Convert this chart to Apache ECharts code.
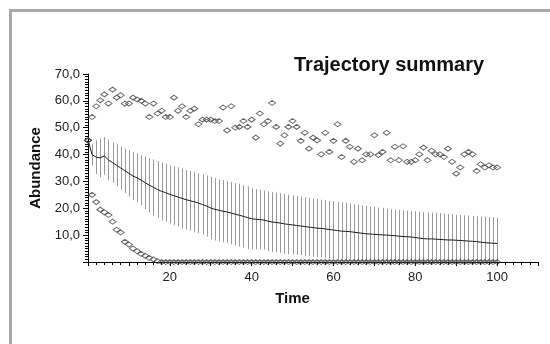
<!DOCTYPE html>
<html>
<head>
<meta charset="utf-8">
<script src="https://cdn.jsdelivr.net/npm/echarts@6/dist/echarts.min.js"></script>
<style>
  html, body { margin: 0; padding: 0; background: #fff; }
  #chart { width: 550px; height: 344px; }
</style>
</head>
<body>
<div id="chart"></div>
<script type="text/javascript">

    // time steps 0..100
    var times = [];
    for (var i = 0; i <= 100; i++) { times.push(i); }

    // mean abundance over trajectories
    var meanValues = [45.3, 40, 39, 38.8, 39.5, 38, 37, 36, 35, 34,
        33, 32, 31.3, 30.5, 29.5, 28.6, 27.8, 27, 26.3, 25.8,
        25.2, 24.7, 24.2, 23.7, 23.2, 22.8, 22.4, 21.9, 21.4, 20.8,
        20.1, 19.6, 19.3, 18.9, 18.6, 18.2, 17.8, 17.4, 17, 16.5,
        16.1, 15.9, 15.8, 15.6, 15.2, 14.9, 14.7, 14.5, 14.2, 14,
        13.8, 13.6, 13.4, 13.2, 13, 12.8, 12.6, 12.5, 12.3, 12.1,
        11.9, 11.7, 11.5, 11.4, 11.3, 11.1, 10.9, 10.7, 10.5, 10.4,
        10.3, 10.2, 10.1, 10, 9.9, 9.8, 9.6, 9.5, 9.4, 9.3,
        9.1, 8.9, 8.7, 8.6, 8.6, 8.5, 8.4, 8.3, 8.2, 8.2,
        8.1, 8, 7.9, 7.8, 7.7, 7.6, 7.4, 7.2, 7.1, 7, 6.9];

    // error bar top (mean + sd), t = 0..100
    var upperValues = [45.3, 44, 45.3, 46, 46.5, 45.5, 44.5, 43.8, 43, 42.3,
        41.6, 41, 40.4, 39.8, 39.3, 38.7, 38.2, 37.6, 37, 36.5,
        36, 35.6, 35.2, 34.8, 34.3, 33.9, 33.5, 33, 32.6, 32.2,
        31.7, 31.2, 30.8, 30.5, 30.1, 29.8, 29.4, 29, 28.6, 28.1,
        27.5, 27.1, 26.9, 26.6, 26.3, 26.1, 25.8, 25.6, 25.3, 25.1,
        24.8, 24.6, 24.3, 24.1, 23.8, 23.6, 23.4, 23.2, 23, 22.8,
        22.6, 22.4, 22.2, 22, 21.7, 21.5, 21.3, 21.1, 20.9, 20.7,
        20.5, 20.3, 20.1, 19.9, 19.7, 19.5, 19.4, 19.2, 19.1, 19,
        18.9, 18.8, 18.6, 18.5, 18.4, 18.3, 18.2, 18, 17.9, 17.8,
        17.6, 17.5, 17.4, 17.3, 17.2, 17, 16.9, 16.8, 16.7, 16.6, 16.5];

    // error bar bottom (mean - sd, clipped at 0)
    var lowerValues = [45.3, 36, 32.7, 31.6, 32.5, 30.5, 29.5, 28.2, 27, 25.7,
        24.4, 23, 22.2, 21.2, 19.7, 18.5, 17.4, 16.4, 15.6, 15.1,
        14.4, 13.8, 13.2, 12.6, 12.1, 11.7, 11.3, 10.8, 10.2, 9.4,
        8.5, 8, 7.8, 7.3, 7.1, 6.6, 6.2, 5.8, 5.4, 4.9,
        4.7, 4.7, 4.7, 4.6, 4.1, 3.7, 3.6, 3.4, 3.1, 2.9,
        2.8, 2.6, 2.5, 2.3, 2.2, 2, 1.8, 1.8, 1.6, 1.4,
        1.2, 1, 0.8, 0.8, 0.9, 0.7, 0.5, 0.3, 0.1, 0,
        0, 0, 0, 0, 0, 0, 0, 0, 0, 0,
        0, 0, 0, 0, 0, 0, 0, 0, 0, 0,
        0, 0, 0, 0, 0, 0, 0, 0, 0, 0, 0];

    // highest trajectory at each step
    var maxValues = [45.3, 54, 58, 60.2, 62.4, 59, 64.2, 61.2, 62.1, 59,
        59, 61.2, 60.5, 60, 59, 54, 59, 55.3, 56.3, 54,
        54, 61.2, 56.3, 58, 54, 56.3, 57.1, 51.3, 53, 53,
        53, 52.5, 52.5, 57.5, 49, 58, 50, 50.3, 52.5, 50.3,
        53, 46.3, 55.3, 51.3, 52.5, 59.2, 50.3, 44.1, 47.2, 50.3,
        52.5, 50.3, 45.1, 48.1, 42.2, 46.3, 45.3, 40.1, 48.1, 41,
        45.1, 51.3, 39.1, 45.1, 42.9, 37.3, 42.2, 37.9, 40.1, 40.1,
        47.2, 39.8, 41, 48.1, 37.9, 42.9, 37.9, 43.1, 37.3, 37.3,
        37.9, 40.1, 42.6, 37.9, 41.4, 40.1, 40.1, 39.1, 42.2, 37.3,
        32.9, 35.2, 40.1, 41, 40.1, 33.9, 36.4, 35.2, 36, 35.2, 35.2];

    // lowest trajectory at each step
    var minValues = [45.3, 25, 22.3, 19.5, 18.5, 17.5, 15, 12, 11, 7.5,
        6.5, 5, 4, 3, 2.3, 1.5, 1, 0.3, 0, 0,
        0, 0, 0, 0, 0, 0, 0, 0, 0, 0,
        0, 0, 0, 0, 0, 0, 0, 0, 0, 0,
        0, 0, 0, 0, 0, 0, 0, 0, 0, 0,
        0, 0, 0, 0, 0, 0, 0, 0, 0, 0,
        0, 0, 0, 0, 0, 0, 0, 0, 0, 0,
        0, 0, 0, 0, 0, 0, 0, 0, 0, 0,
        0, 0, 0, 0, 0, 0, 0, 0, 0, 0,
        0, 0, 0, 0, 0, 0, 0, 0, 0, 0, 0];

    var font = "'Liberation Sans', Arial, sans-serif";

    var meanData = times.map(function (t, i) { return [t, meanValues[i]]; });
    var barData = [];
    for (var k = 1; k < times.length; k++) {
        barData.push([times[k], lowerValues[k], upperValues[k]]);
    }
    var maxData = times.map(function (t, i) { return [t, maxValues[i]]; });
    var minData = times.map(function (t, i) { return [t, minValues[i]]; });

    var myChart = echarts.init(document.getElementById('chart'));

    var diamondStyle = {
        color: 'rgba(255,255,255,0)',
        borderColor: '#444',
        borderWidth: 1
    };

    var option = {
        animation: false,
        backgroundColor: '#fff',
        textStyle: { fontFamily: font },
        title: {
            text: 'Trajectory summary',
            left: 289,
            top: 50,
            textStyle: { fontFamily: font, fontSize: 20, fontWeight: 'bold', color: '#111', lineHeight: 20 }
        },
        graphic: [
            { type: 'rect', shape: { x: 9, y: 9, width: 545, height: 3 }, style: { fill: '#a8a8a8' } },
            { type: 'rect', shape: { x: 9, y: 9, width: 3, height: 340 }, style: { fill: '#a8a8a8' } }
        ],
        grid: { left: 88, right: 12, top: 74, bottom: 82, containLabel: false },
        xAxis: {
            type: 'value',
            min: 0,
            max: 110,
            interval: 10,
            name: 'Time',
            nameLocation: 'middle',
            nameGap: 29,
            nameTextStyle: { fontFamily: font, fontSize: 15, fontWeight: 'bold', color: '#111', padding: [0, 41, 0, 0] },
            axisLine: { lineStyle: { color: '#000', width: 1 } },
            axisTick: { show: true, length: 4, lineStyle: { color: '#000' } },
            minorTick: { show: true, splitNumber: 5, length: 3, lineStyle: { color: '#000' } },
            axisLabel: {
                margin: 9,
                fontSize: 13,
                color: '#222',
                fontFamily: font,
                showMinLabel: false,
                showMaxLabel: false,
                formatter: function (v) { return (v > 0 && v <= 100 && v % 20 === 0) ? String(v) : ''; }
            },
            splitLine: { show: false }
        },
        yAxis: {
            type: 'value',
            min: 0,
            max: 70,
            interval: 10,
            name: 'Abundance',
            nameLocation: 'middle',
            nameGap: 43,
            nameTextStyle: { fontFamily: font, fontSize: 15, fontWeight: 'bold', color: '#111' },
            axisLine: { show: true, lineStyle: { color: '#000', width: 1 } },
            axisTick: { show: true, length: 5, lineStyle: { color: '#000' } },
            minorTick: { show: true, splitNumber: 10, length: 3, lineStyle: { color: '#000' } },
            axisLabel: {
                margin: 8,
                fontSize: 13,
                color: '#222',
                fontFamily: font,
                formatter: function (v) { return v === 0 ? '' : v.toFixed(1).replace('.', ','); }
            },
            splitLine: { show: false }
        },
        series: [
            {
                name: 'sd',
                type: 'custom',
                data: barData,
                encode: { x: 0, y: [1, 2] },
                renderItem: function (params, api) {
                    var lo = api.coord([api.value(0), api.value(1)]);
                    var hi = api.coord([api.value(0), api.value(2)]);
                    var x = Math.round(lo[0]) + 0.5;
                    return {
                        type: 'line',
                        shape: { x1: x, y1: lo[1], x2: x, y2: hi[1] },
                        style: { stroke: '#999', lineWidth: 1 }
                    };
                },
                z: 1
            },
            {
                name: 'mean',
                type: 'line',
                data: meanData,
                showSymbol: false,
                symbol: 'none',
                lineStyle: { color: '#1a1a1a', width: 1 },
                z: 2
            },
            {
                name: 'max',
                type: 'scatter',
                data: maxData,
                symbol: 'diamond',
                symbolSize: [7, 5],
                itemStyle: diamondStyle,
                clip: false,
                z: 3
            },
            {
                name: 'min',
                type: 'scatter',
                data: minData,
                symbol: 'diamond',
                symbolSize: [7, 5],
                itemStyle: diamondStyle,
                clip: false,
                z: 3
            }
        ]
    };

    myChart.setOption(option);
</script>
</body>
</html>
